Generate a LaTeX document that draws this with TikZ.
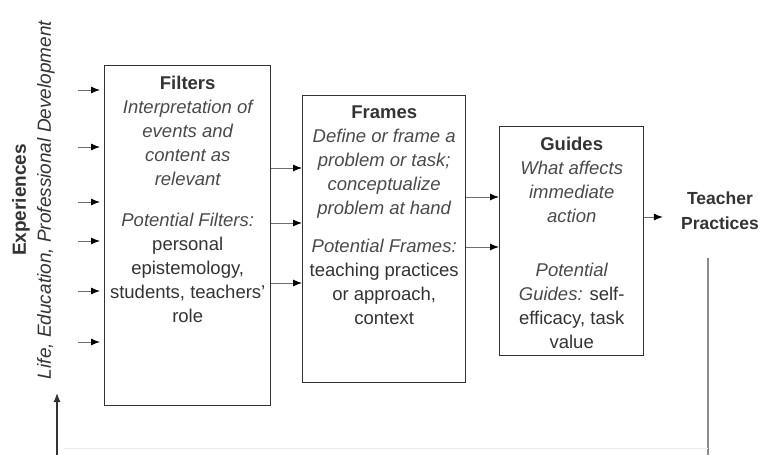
\documentclass[tikz,border=0pt]{standalone}
\usepackage{fontspec}
\setmainfont{Liberation Sans}
\usepackage{tikz}
\usetikzlibrary{
  arrows.meta,
  positioning,
}
\definecolor{boxCol}{HTML}{333333}
\definecolor{lineCol}{HTML}{6E6E6E}
\definecolor{descCol}{HTML}{4A4A4A}
\tikzset{
  stagebox/.style={
    rectangle, draw=boxCol, line width=1.4pt, anchor=north west,
    inner sep=0pt,
  },
  stagetext/.style={
    align=center, inner sep=0pt, text=boxCol,
    font=\fontsize{18.5}{24}\selectfont,
  },
  sidetext/.style={
    rotate=90, inner sep=0pt, text=boxCol,
    font=\fontsize{19}{23}\selectfont,
  },
  arrowIn/.style={
    -{Latex[length=9pt,width=7pt,color=black]}, line width=1pt, draw=lineCol,
  },
  loopLine/.style={
    line width=1.2pt, draw=lineCol!80,
  },
}

\begin{document}
\begin{tikzpicture}[x=1pt, y=-1pt]
\useasboundingbox (0,0) rectangle (766,455);

% Side labels
\node[sidetext, font=\fontsize{19}{23}\selectfont\bfseries] (exp) at (21,200) {Experiences};
\node[sidetext, font=\fontsize{19}{23}\selectfont\itshape] (expkind) at (46,200) {Life, Education, Professional Development};

% Boxes
\node[stagebox, minimum width=166pt, minimum height=340pt] (filters) at (104,65) {};
\node[stagebox, minimum width=163pt, minimum height=287pt] (frames) at (302,95) {};
\node[stagebox, minimum width=144pt, minimum height=229pt] (guides) at (499,126) {};

% Box texts
\node[stagetext, below=11pt of filters.north] (filtersTxt) {%
  \textbf{Filters}\\
  {\color{descCol}\itshape Interpretation of}\\
  {\color{descCol}\itshape events and}\\
  {\color{descCol}\itshape content as}\\
  {\color{descCol}\itshape relevant}\\[17pt]
  {\color{descCol}\itshape Potential Filters:}\\
  personal\\
  epistemology,\\
  students, teachers'\\
  role};
\node[stagetext, below=11pt of frames.north] (framesTxt) {%
  \textbf{Frames}\\
  {\color{descCol}\itshape Define or frame a}\\
  {\color{descCol}\itshape problem or task;}\\
  {\color{descCol}\itshape conceptualize}\\
  {\color{descCol}\itshape problem at hand}\\[14pt]
  {\color{descCol}\itshape Potential Frames:}\\
  teaching practices\\
  or approach,\\
  context};
\node[stagetext, below=11pt of guides.north] (guidesTxt) {%
  \textbf{Guides}\\
  {\color{descCol}\itshape What affects}\\
  {\color{descCol}\itshape immediate}\\
  {\color{descCol}\itshape action}\\[30pt]
  {\color{descCol}\itshape Potential}\\
  {\color{descCol}\itshape Guides:} self-\\
  efficacy, task\\
  value};

\node[stagetext, inner sep=2pt, font=\fontsize{17.5}{25}\selectfont\bfseries] (practices) at (720,211) {Teacher\\Practices};

% Inputs into Filters
\foreach \y [count=\i] in {90,147,202,241,291,342}
  \coordinate (in\i) at (78,\y);
\foreach \i in {1,...,6}
  \draw[arrowIn, shorten >=4pt] (in\i) -- (in\i -| filters.west);

% Filters -> Frames
\foreach \y in {168,223,283}
  \draw[arrowIn] (filters.east |- 0,\y) -- (frames.west |- 0,\y);

% Frames -> Guides
\foreach \y in {197,247}
  \draw[arrowIn] (frames.east |- 0,\y) -- (guides.west |- 0,\y);

% Guides -> Teacher Practices
\draw[arrowIn, shorten >=16pt] (guides.east |- 0,217) -- (practices.west |- 0,217);

% Feedback loop (cut off at the bottom)
\coordinate (fbTop) at (708,258);
\coordinate (fbBot) at (708,455);
\coordinate (loopIn) at (57,455);
\coordinate (loopTip) at (57,393);
\draw[loopLine] (fbTop) -- (fbBot);
\draw[-{Latex[length=9pt,width=7pt]}, line width=1.2pt, draw=boxCol] (loopIn) -- (loopTip);
\draw[draw=black!8, line width=1pt] (64,448) -- (708,448);

\end{tikzpicture}
\end{document}
